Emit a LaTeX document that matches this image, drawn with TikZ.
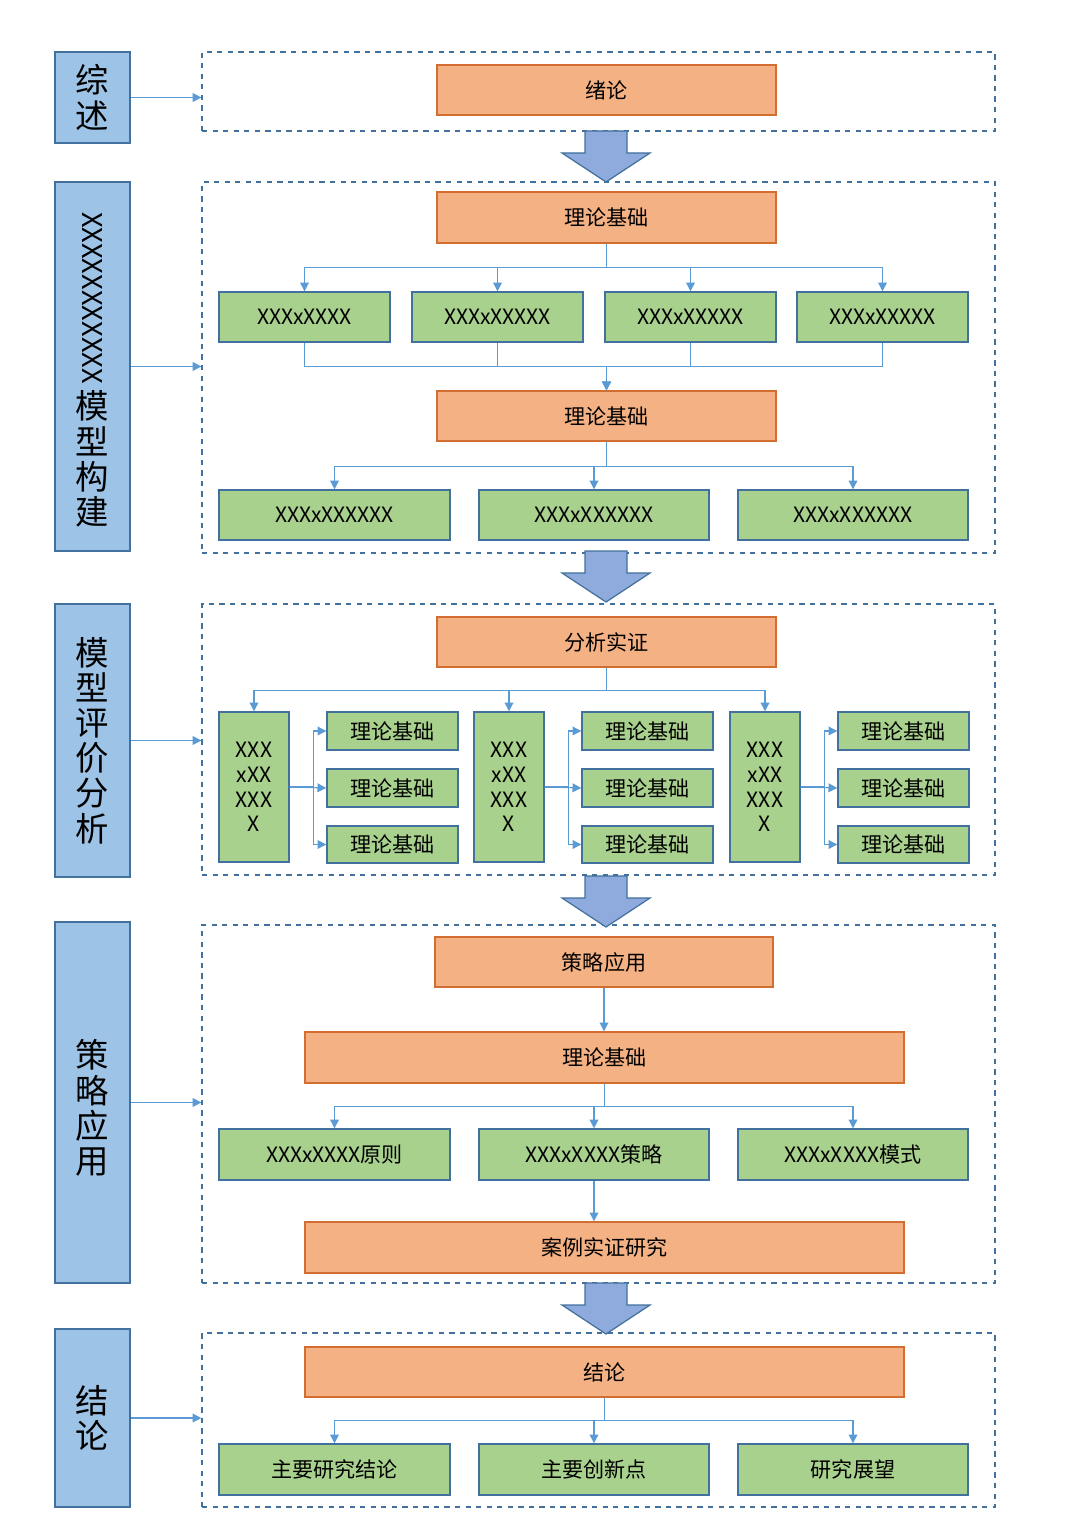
\documentclass[tikz,border=0pt]{standalone}
\usepackage{fontspec}
\setmainfont{Noto Sans CJK SC}
\usetikzlibrary{arrows.meta}
\definecolor{ofill}{RGB}{244,177,131}
\definecolor{odraw}{RGB}{210,110,50}
\definecolor{gfill}{RGB}{169,209,142}
\definecolor{bdraw}{RGB}{65,113,156}
\definecolor{lfill}{RGB}{157,195,230}
\definecolor{afill}{RGB}{143,170,220}
\definecolor{cline}{RGB}{91,155,213}
\tikzset{
  obox/.style={draw=odraw, fill=ofill, line width=0.8pt, inner sep=0pt, font=\fontsize{12}{14}\selectfont},
  gbox/.style={draw=bdraw, fill=gfill, line width=0.8pt, inner sep=0pt, align=center, font=\fontsize{12}{14}\selectfont},
  lbox/.style={draw=bdraw, fill=lfill, line width=0.8pt},
  frame/.style={draw=bdraw, dashed, line width=0.7pt},
  con/.style={draw=cline, line width=0.6pt, -{Triangle[length=5pt,width=5pt]}},
  bigarrow/.style={draw=bdraw, fill=afill, line width=0.7pt},
  side/.style={font=\fontsize{19}{20}\selectfont, align=center}
}
\newcommand{\bx}[7]{\node[#1, minimum width={(#5-#3)*0.02cm}, minimum height={(#6-#4)*0.02cm}] (#2) at ({(#3+#5)/2},{(#4+#6)/2}) {#7};}
\newcommand{\blockarrow}[1]{\draw[bigarrow] (585,#1)--(627,#1)--(627,#1+22)--(650,#1+22)--(606,#1+51)--(562,#1+22)--(585,#1+22)--cycle;}
\begin{document}
\begin{tikzpicture}[x=0.02cm, y=-0.02cm]
	\useasboundingbox (0,0) rectangle (1080,1530);
	% left column
	\bx{lbox}{l1}{55}{52}{130}{143}{}
	\bx{lbox}{l2}{55}{182}{130}{551}{}
	\bx{lbox}{l3}{55}{604}{130}{877}{}
	\bx{lbox}{l4}{55}{922}{130}{1283}{}
	\bx{lbox}{l5}{55}{1329}{130}{1507}{}
	\node[side] (l1t) at (l1) {综\\述};
	\node[side, rotate=-90, font=\fontsize{15.5}{18}\selectfont] (l2x) at (92,298) {XXXXXXXXXXX};
	\node[side] (l2t) at (92,459) {模\\型\\构\\建};
	\node[side] (l3t) at (l3) {模\\型\\评\\价\\分\\析};
	\node[side] (l4t) at (92,1108) {策\\略\\应\\用};
	\node[side] (l5t) at (l5) {结\\论};
	
	% frames
	\bx{frame}{f1}{202}{52}{995}{131}{}
	\bx{frame}{f2}{202}{182}{995}{553}{}
	\bx{frame}{f3}{202}{604}{995}{875}{}
	\bx{frame}{f4}{202}{925}{995}{1283}{}
	\bx{frame}{f5}{202}{1333}{995}{1507}{}
	\foreach \i in {1,...,5}
		\draw[con] (l\i.east) -- (l\i.east -| f\i.west);
	
	\blockarrow{131}
	\blockarrow{551}
	\blockarrow{876}
	\blockarrow{1283}
	
	% section 1
	\bx{obox}{a1}{437}{65}{776}{115}{绪论}
	
	% section 2
	\bx{obox}{b1}{437}{192}{776}{243}{理论基础}
	\bx{gbox}{b11}{219}{292}{390}{342}{XXXxXXXX}
	\bx{gbox}{b12}{412}{292}{583}{342}{XXXxXXXXX}
	\bx{gbox}{b13}{605}{292}{776}{342}{XXXxXXXXX}
	\bx{gbox}{b14}{797}{292}{968}{342}{XXXxXXXXX}
	\bx{obox}{b2}{437}{391}{776}{441}{理论基础}
	\bx{gbox}{b21}{219}{490}{450}{540}{XXXxXXXXXX}
	\bx{gbox}{b22}{479}{490}{709}{540}{XXXxXXXXXX}
	\bx{gbox}{b23}{738}{490}{968}{540}{XXXxXXXXXX}
	\foreach \i in {1,...,4}{
		\draw[con] (b1.south) -- ++(0,24) -| (b1\i.north);
		\draw[con] (b1\i.south) -- ++(0,24) -| (b2.north);
	}
	\foreach \i in {1,2,3}
		\draw[con] (b2.south) -- ++(0,25) -| (b2\i.north);
	
	% section 3
	\bx{obox}{c0}{437}{617}{776}{667}{分析实证}
	\foreach \n/\xa/\xs in {1/219/327, 2/474/582, 3/730/838}{
		\bx{gbox}{c\n}{\xa}{712}{\xa+70}{862}{XXX\\xXX\\XXX\\X}
		\bx{gbox}{c\n a}{\xs}{712}{\xs+131}{750}{理论基础}
		\bx{gbox}{c\n b}{\xs}{769}{\xs+131}{807}{理论基础}
		\bx{gbox}{c\n c}{\xs}{826}{\xs+131}{863}{理论基础}
		\draw[con] (c0.south) -- ++(0,23) -| (c\n.north);
		\draw[con] (c\n.east) -- ++(24,0) |- (c\n a.west);
		\draw[con] (c\n.east) -- (c\n b.west);
		\draw[con] (c\n.east) -- ++(24,0) |- (c\n c.west);
	}
	
	% section 4
	\bx{obox}{d1}{435}{937}{773}{987}{策略应用}
	\bx{obox}{d2}{305}{1032}{904}{1083}{理论基础}
	\bx{gbox}{d21}{219}{1129}{450}{1180}{XXXxXXXX原则}
	\bx{gbox}{d22}{479}{1129}{709}{1180}{XXXxXXXX策略}
	\bx{gbox}{d23}{738}{1129}{968}{1180}{XXXxXXXX模式}
	\bx{obox}{d3}{305}{1222}{904}{1273}{案例实证研究}
	\draw[con] (d1.south) -- (d1.south |- d2.north);
	\foreach \i in {1,2,3}
		\draw[con] (d2.south) -- ++(0,23) -| (d2\i.north);
	\draw[con] (d22.south) -- (d22.south |- d3.north);
	
	% section 5
	\bx{obox}{e1}{305}{1347}{904}{1397}{结论}
	\bx{gbox}{e11}{219}{1444}{450}{1495}{主要研究结论}
	\bx{gbox}{e12}{479}{1444}{709}{1495}{主要创新点}
	\bx{gbox}{e13}{738}{1444}{968}{1495}{研究展望}
	\foreach \i in {1,2,3}
		\draw[con] (e1.south) -- ++(0,23) -| (e1\i.north);
\end{tikzpicture}
\end{document}
